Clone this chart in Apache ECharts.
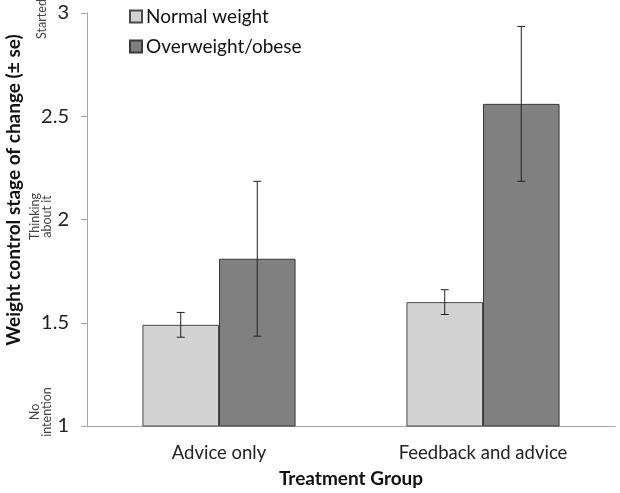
<!DOCTYPE html>
<html><head><meta charset="utf-8">
<script src="https://cdn.jsdelivr.net/npm/echarts@6/dist/echarts.min.js"></script>
<style>html,body{margin:0;padding:0;background:#fff}#c{width:620px;height:493px}</style>
</head><body><div id="c"></div>
<script>
const categories = ['Advice only', 'Feedback and advice'];
const seriesNames = ['Normal weight', 'Overweight/obese'];
const normalMean = [1.49, 1.60];
const normalSE = [0.06, 0.06];
const overMean = [1.81, 2.56];
const overSE = [0.375, 0.375];
const yTicks = [1, 1.5, 2, 2.5, 3];
const yTitle = 'Weight control stage of change (± se)';
const stageLabels = [
  {text: 'Started', value: 3},
  {text: 'Thinking\nabout it', value: 2},
  {text: 'No\nintention', value: 1}
];

const FONT = 'Lato';
const GAP = 0.42;
const chart = echarts.init(document.getElementById('c'));

function errSeries(means, ses, idx) {
  return {
    type: 'custom',
    z: 10,
    data: means.map((m, i) => [i, m - ses[i], m + ses[i]]),
    renderItem: function (params, api) {
      const band = api.size([1, 0])[0];
      const bw = band * (1 - GAP) / 2;
      const off = (idx === 0 ? -bw / 2 : bw / 2);
      const lo = api.coord([api.value(0), api.value(1)]);
      const hi = api.coord([api.value(0), api.value(2)]);
      const x = lo[0] + off;
      const c = 4;
      const st = {stroke: '#222', lineWidth: 1};
      return {type: 'group', children: [
        {type: 'line', shape: {x1: x, y1: lo[1], x2: x, y2: hi[1]}, style: st},
        {type: 'line', shape: {x1: x - c, y1: lo[1], x2: x + c, y2: lo[1]}, style: st},
        {type: 'line', shape: {x1: x - c, y1: hi[1], x2: x + c, y2: hi[1]}, style: st}
      ]};
    }
  };
}

chart.setOption({
  animation: false,
  textStyle: {fontFamily: FONT},
  grid: {left: 87, right: 5, top: 13, bottom: 62},
  legend: {
    orient: 'vertical', left: 124, top: 2, itemGap: 11,
    itemWidth: 12, itemHeight: 12, icon: 'rect',
    data: seriesNames,
    textStyle: {fontSize: 19, color: '#111', fontFamily: FONT, padding: [0, 0, 0, -1]}
  },
  xAxis: {
    type: 'category', data: categories,
    axisLine: {lineStyle: {color: '#a6a6a6', width: 1}},
    axisTick: {show: false},
    axisLabel: {fontSize: 18.5, color: '#222', margin: 18},
    name: 'Treatment Group', nameLocation: 'middle', nameGap: 43,
    nameTextStyle: {fontSize: 19, fontWeight: 'bold', color: '#111'}
  },
  yAxis: {
    type: 'value', min: 1, max: 3, interval: 0.5,
    axisLine: {show: true, lineStyle: {color: '#a6a6a6'}},
    axisTick: {show: true, length: 6, lineStyle: {color: '#a6a6a6'}},
    splitLine: {show: false},
    axisLabel: {fontSize: 20, color: '#222', margin: 18,
      formatter: v => yTicks.includes(v) ? String(v) : ''}
  },
  series: [
    {name: seriesNames[0], type: 'bar', data: normalMean, barGap: '0%', barCategoryGap: (GAP * 100) + '%',
      itemStyle: {color: '#d3d3d3', borderColor: '#4a4a4a', borderWidth: 1}},
    {name: seriesNames[1], type: 'bar', data: overMean, barGap: '0%', barCategoryGap: (GAP * 100) + '%',
      itemStyle: {color: '#808080', borderColor: '#3a3a3a', borderWidth: 1}},
    errSeries(normalMean, normalSE, 0),
    errSeries(overMean, overSE, 1)
  ]
});

function drawStages() {
  const els = stageLabels.map((s, i) => {
    const y = chart.convertToPixel({yAxisIndex: 0}, s.value);
    let cy = y, cx = 41;
    if (i === 0) { cy = y + 6; cx = 42; }
    if (i === 1) cy = y - 3;
    if (i === 2) cy = y - 14;
    return {type: 'text', x: cx, y: cy, rotation: Math.PI / 2,
      style: {text: s.text, fontSize: 12.5, fontFamily: FONT, fill: '#444', align: 'center', verticalAlign: 'middle', lineHeight: 12}};
  });
  els.push({type: 'text', x: 14, y: 190, rotation: Math.PI / 2,
    style: {text: yTitle, fontSize: 19, fontWeight: 'bold', fontFamily: FONT, fill: '#111', align: 'center', verticalAlign: 'middle'}});
  chart.setOption({graphic: els});
}
drawStages();
</script></body></html>
